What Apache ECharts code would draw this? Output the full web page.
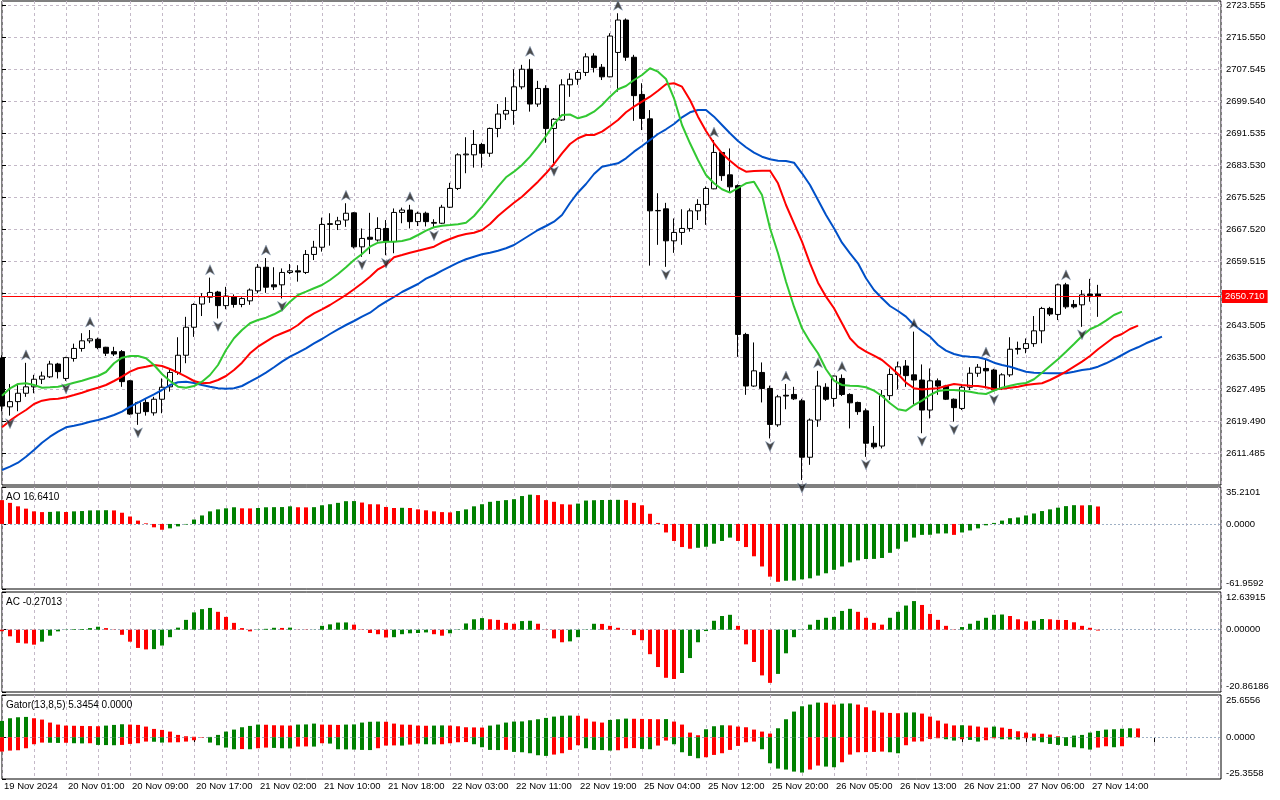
<!DOCTYPE html>
<html>
<head>
<meta charset="utf-8">
<script src="https://cdn.jsdelivr.net/npm/echarts@6/dist/echarts.min.js"></script>
<style>html,body{margin:0;padding:0;background:#fff}#c{width:1280px;height:800px}</style>
</head>
<body>
<div id="c"></div>
<script>
// ---------- DATA ----------
const tickLabels = ['19 Nov 2024','20 Nov 01:00','20 Nov 09:00','20 Nov 17:00','21 Nov 02:00','21 Nov 10:00','21 Nov 18:00','22 Nov 03:00','22 Nov 11:00','22 Nov 19:00','25 Nov 04:00','25 Nov 12:00','25 Nov 20:00','26 Nov 05:00','26 Nov 13:00','26 Nov 21:00','27 Nov 06:00','27 Nov 14:00'];
const priceTicks = [2611.485, 2619.490, 2627.495, 2635.500, 2643.505, 2651.510, 2659.515, 2667.520, 2675.525, 2683.530, 2691.535, 2699.540, 2707.545, 2715.550, 2723.555];

const opens = [
2635.3,2623.1,2624.4,2626.5,2628.1,2630.0,2630.6,2633.8,2630.2,2635.2,
2637.7,2639.6,2640.0,2638.0,2636.9,2636.9,2629.6,2621.5,2624.2,2621.6,
2625.0,2628.1,2631.7,2636.0,2643.0,2648.8,2650.5,2651.8,2648.4,2650.6,
2648.7,2649.6,2652.1,2658.0,2653.6,2653.6,2656.7,2657.1,2656.7,2661.2,
2663.0,2668.7,2668.7,2669.8,2671.6,2663.1,2665.5,2664.8,2667.7,2664.4,
2671.7,2672.3,2669.4,2671.5,2669.0,2669.0,2673.0,2677.7,2686.1,2686.1,
2688.7,2686.5,2692.7,2696.3,2697.2,2703.1,2707.5,2698.8,2702.7,2692.7,
2694.8,2703.6,2705.0,2706.7,2710.8,2708.0,2705.6,2711.7,2719.8,2710.5,
2701.2,2695.1,2672.1,2672.6,2664.6,2666.7,2667.7,2672.1,2673.7,2677.6,
2686.7,2681.1,2678.4,2641.2,2628.3,2631.7,2627.7,2618.6,2626.0,2626.2,
2624.6,2610.5,2619.8,2628.0,2625.2,2630.2,2626.2,2624.2,2622.1,2614.0,
2613.3,2625.9,2631.2,2633.3,2631.1,2629.8,2622.3,2629.6,2628.3,2625.0,
2622.7,2628.0,2631.5,2632.7,2632.3,2627.7,2631.1,2637.7,2637.7,2638.9,
2642.1,2647.7,2646.2,2653.6,2648.7,2648.6,2651.3,2651.3];
const highs = [
2636.0,2628.8,2628.7,2634.1,2631.1,2631.9,2634.6,2634.1,2635.6,2638.9,
2641.5,2642.3,2640.4,2638.1,2638.1,2637.3,2629.8,2624.4,2625.0,2625.6,
2630.2,2632.7,2640.5,2645.6,2649.0,2651.5,2655.4,2652.1,2653.1,2651.2,
2650.5,2652.7,2658.8,2660.3,2658.0,2657.7,2658.8,2658.5,2662.3,2664.6,
2670.4,2671.5,2670.6,2674.0,2671.8,2667.7,2671.6,2670.5,2669.8,2672.7,
2672.9,2673.6,2671.9,2671.9,2670.0,2673.6,2679.1,2686.5,2690.5,2692.3,
2689.1,2692.9,2698.8,2700.5,2707.5,2708.6,2710.0,2704.6,2703.5,2695.3,
2705.0,2706.5,2707.3,2711.5,2711.5,2708.8,2716.5,2721.5,2720.2,2711.1,
2704.0,2697.3,2676.5,2674.1,2670.2,2672.5,2672.7,2675.0,2678.2,2689.8,
2686.9,2687.7,2678.7,2641.6,2639.2,2634.2,2628.4,2626.1,2628.8,2628.1,
2625.1,2620.2,2632.1,2629.0,2630.9,2631.2,2626.5,2624.4,2622.7,2618.3,
2627.3,2632.7,2634.4,2634.8,2641.9,2633.7,2632.7,2630.2,2628.6,2625.2,
2628.6,2633.0,2633.8,2634.8,2632.6,2631.5,2640.5,2639.4,2640.2,2645.8,
2648.1,2648.1,2653.9,2654.1,2649.8,2652.3,2655.1,2653.6];
const lows = [
2622.0,2620.9,2622.0,2625.6,2626.5,2628.8,2630.3,2630.2,2629.6,2634.4,
2636.9,2639.0,2637.5,2635.8,2635.8,2628.1,2621.1,2618.6,2620.9,2620.9,
2621.5,2626.9,2631.1,2634.0,2640.6,2645.8,2649.1,2645.2,2647.5,2647.9,
2648.0,2648.6,2651.5,2651.6,2652.3,2650.2,2656.3,2654.4,2656.3,2659.8,
2661.9,2663.4,2667.3,2668.1,2662.7,2660.6,2661.3,2664.4,2661.0,2661.5,
2669.0,2667.7,2668.3,2668.2,2667.9,2668.8,2672.8,2677.3,2681.5,2682.9,
2682.9,2685.6,2690.5,2694.8,2693.6,2702.5,2696.9,2698.1,2689.1,2684.0,
2694.6,2700.6,2703.6,2705.8,2706.7,2704.8,2705.5,2701.9,2709.6,2694.6,
2692.3,2658.4,2663.6,2658.1,2661.6,2663.6,2666.9,2669.8,2668.6,2677.5,
2679.6,2676.9,2635.6,2626.1,2628.1,2624.2,2615.2,2618.1,2622.5,2624.8,
2604.8,2608.6,2618.1,2624.6,2623.1,2625.8,2617.7,2621.1,2610.6,2612.6,
2612.7,2624.8,2627.5,2628.1,2623.7,2616.5,2620.2,2626.1,2624.8,2619.4,
2622.3,2627.3,2630.6,2627.7,2626.9,2627.3,2630.6,2636.2,2636.5,2638.1,
2639.0,2645.8,2644.8,2647.6,2647.7,2643.1,2649.4,2645.6];
const closes = [
2623.3,2624.4,2626.5,2628.1,2630.0,2630.8,2633.8,2631.9,2635.4,2637.7,
2639.6,2640.1,2637.9,2636.5,2636.3,2629.4,2621.3,2624.2,2621.9,2625.0,
2628.0,2631.7,2636.0,2643.0,2648.7,2650.6,2651.7,2648.4,2650.8,2648.7,
2650.2,2652.3,2658.0,2653.0,2653.1,2656.7,2657.1,2656.8,2661.2,2663.0,
2668.7,2668.9,2669.6,2671.5,2663.1,2665.2,2665.0,2667.7,2664.4,2671.7,
2672.3,2669.4,2671.5,2669.4,2669.2,2673.0,2677.7,2686.1,2686.3,2688.7,
2686.5,2692.7,2696.3,2697.2,2703.1,2707.5,2698.8,2702.7,2692.7,2695.0,
2703.6,2705.0,2706.7,2710.6,2707.9,2705.6,2715.8,2719.8,2710.5,2700.9,
2695.2,2672.1,2672.2,2664.6,2666.7,2667.7,2672.1,2673.7,2677.7,2686.7,
2680.9,2678.1,2641.2,2628.3,2632.1,2627.7,2618.7,2625.6,2625.8,2625.1,
2610.5,2619.8,2628.3,2625.0,2630.8,2626.2,2624.1,2621.9,2614.0,2613.1,
2625.9,2631.2,2633.1,2630.9,2629.8,2622.3,2629.6,2628.3,2625.0,2622.9,
2628.0,2631.5,2633.0,2632.1,2627.3,2631.1,2637.5,2637.5,2638.9,2642.1,
2647.7,2646.3,2653.6,2648.1,2648.1,2651.1,2650.9,2650.71];

// Alligator lines (as drawn, already shifted)
const jaw = [
2607.31,2608.14,2609.14,2610.64,2612.31,2614.14,2615.64,2616.89,2617.99,2618.39,
2618.81,2619.39,2619.81,2620.39,2621.06,2621.89,2623.14,2624.14,2625.24,2626.24,
2627.31,2628.56,2629.24,2629.39,2629.06,2628.56,2628.14,2627.74,2627.64,2627.74,
2628.31,2629.39,2630.49,2631.64,2632.99,2634.39,2635.64,2636.64,2637.74,2638.99,
2640.06,2641.31,2642.49,2643.56,2644.56,2645.64,2646.64,2648.14,2649.39,2650.56,
2651.81,2652.81,2653.81,2655.14,2656.06,2657.14,2658.14,2659.14,2659.99,2660.64,
2661.24,2661.64,2662.14,2662.74,2663.56,2664.81,2666.06,2667.31,2668.31,2669.39,
2671.06,2674.06,2676.69,2678.81,2681.31,2683.14,2683.56,2683.99,2685.24,2686.89,
2688.31,2689.81,2691.31,2692.49,2693.81,2695.49,2696.74,2697.31,2697.31,2695.64,
2693.56,2691.49,2689.56,2687.99,2686.64,2685.64,2684.99,2684.64,2684.56,2684.14,
2681.49,2678.56,2674.81,2671.06,2667.74,2664.14,2661.49,2658.99,2655.24,2652.31,
2650.24,2648.31,2647.06,2645.64,2643.56,2642.06,2640.64,2638.56,2637.14,2636.31,
2635.81,2635.64,2635.49,2634.99,2634.14,2633.56,2633.14,2632.49,2631.89,2631.64,
2631.56,2631.49,2631.49,2631.49,2631.89,2632.31,2632.56,2633.14,2633.99,2634.99,
2636.06,2637.14,2637.99,2638.99,2639.81,2640.64];
const teeth = [
2617.99,2619.64,2621.06,2622.31,2623.81,2624.64,2624.99,2625.14,2625.49,2626.06,
2626.64,2627.31,2627.89,2628.56,2629.56,2630.64,2631.89,2632.74,2633.14,2633.56,
2633.31,2632.56,2631.64,2630.64,2629.56,2628.99,2629.14,2629.81,2630.81,2632.31,
2634.14,2636.49,2638.14,2639.39,2640.64,2641.49,2642.31,2643.56,2645.24,2646.49,
2647.49,2648.56,2649.81,2651.06,2652.49,2653.99,2655.64,2657.49,2658.56,2660.49,
2661.06,2661.64,2662.14,2662.64,2663.14,2664.24,2665.06,2665.81,2666.31,2666.64,
2667.31,2668.81,2670.81,2672.49,2674.14,2675.64,2677.49,2679.39,2681.49,2683.81,
2686.49,2688.81,2690.24,2691.06,2691.06,2691.89,2693.31,2694.81,2696.74,2698.14,
2699.39,2700.64,2702.14,2703.74,2703.99,2703.14,2699.81,2695.64,2692.06,2688.99,
2686.49,2684.61,2682.99,2681.89,2682.06,2682.14,2682.14,2678.99,2673.56,2668.99,
2664.39,2658.99,2654.14,2650.64,2647.74,2643.99,2640.24,2638.14,2636.89,2635.89,
2634.81,2633.14,2631.31,2629.14,2627.74,2627.44,2627.64,2627.74,2628.31,2628.81,
2628.56,2628.39,2628.31,2627.99,2627.49,2627.64,2627.89,2628.14,2628.56,2628.81,
2628.99,2629.81,2630.81,2631.89,2633.14,2634.39,2635.81,2637.49,2638.99,2640.49,
2641.31,2642.56,2643.39];
const lips = [
2625.89,2627.74,2628.81,2628.99,2628.56,2627.89,2627.99,2628.14,2628.56,2629.14,
2629.64,2630.24,2630.81,2631.81,2633.99,2635.39,2635.81,2635.81,2635.24,2633.56,
2631.31,2629.56,2628.14,2627.89,2628.31,2629.39,2631.06,2633.56,2637.31,2640.24,
2642.31,2643.99,2644.81,2645.39,2646.24,2647.31,2649.39,2651.06,2651.89,2652.74,
2653.56,2654.81,2656.31,2657.99,2659.81,2661.31,2663.14,2664.14,2664.39,2664.39,
2664.56,2665.06,2666.06,2667.14,2667.99,2668.39,2668.56,2668.74,2669.14,2670.81,
2673.14,2675.64,2678.14,2680.49,2681.89,2683.56,2685.64,2688.14,2690.81,2693.81,
2696.06,2696.19,2695.24,2695.81,2696.89,2698.56,2700.64,2702.49,2703.31,2704.81,
2706.06,2707.74,2706.89,2705.06,2700.24,2693.56,2688.99,2684.81,2681.06,2678.99,
2677.49,2676.64,2677.81,2678.99,2679.39,2676.06,2667.74,2661.49,2654.39,2648.14,
2642.74,2639.39,2636.49,2632.49,2629.64,2628.56,2628.39,2628.31,2627.99,2627.14,
2625.81,2623.99,2622.49,2622.14,2623.56,2624.64,2626.06,2627.06,2627.31,2627.31,
2627.14,2626.89,2626.49,2626.31,2627.14,2627.89,2628.39,2628.81,2629.06,2629.99,
2631.64,2633.31,2634.99,2636.89,2638.81,2640.81,2642.49,2643.39,2644.64,2646.06,
2646.89];

const fractalUp = [3, 11, 26, 33, 43, 51, 66, 77, 89, 98, 102, 105, 114, 123, 133];
const fractalDown = [1, 8, 17, 27, 35, 45, 48, 54, 69, 83, 96, 100, 108, 115, 119, 124, 135];

const ao = [
22.7,20.1,16.8,14.6,12.0,11.3,11.5,12.0,11.4,12.0,
12.3,12.9,13.0,13.1,12.9,10.7,7.1,3.2,0.6,-3.2,
-5.5,-4.2,-2.3,-0.5,4.2,8.1,12.0,13.9,14.9,15.9,
14.9,14.8,15.2,15.9,16.0,16.1,16.8,15.9,15.8,16.0,
17.8,18.8,20.1,21.7,21.8,20.4,18.8,18.7,16.2,15.2,
15.4,15.2,13.9,13.0,12.0,11.3,11.0,12.3,13.9,16.8,
18.8,21.1,22.0,22.7,23.6,26.6,27.9,27.5,22.7,21.1,
18.8,18.5,19.4,22.3,22.6,22.8,22.9,23.0,22.7,20.1,
17.8,9.7,1.0,-8.1,-16.2,-22.0,-23.6,-22.7,-21.7,-18.8,
-16.2,-13.0,-16.2,-22.0,-30.8,-40.5,-50.2,-55.1,-54.1,-53.9,
-52.8,-51.8,-49.2,-47.0,-43.7,-40.5,-36.6,-34.7,-33.4,-33.3,
-32.4,-27.5,-23.6,-16.8,-13.0,-10.4,-10.3,-9.1,-9.0,-10.4,
-8.1,-6.2,-4.2,-1.3,1.0,3.2,5.5,6.2,8.1,10.0,
12.3,13.9,15.5,17.0,17.9,17.7,17.9,16.641];
const ac = [
-0.5,-2.2,-4.4,-4.6,-5.0,-4.0,-2.0,-0.55,0.1,0.2,
0.25,0.55,1.0,0.55,-0.1,-1.7,-4.0,-6.1,-6.6,-6.5,
-5.3,-2.5,0.7,3.3,5.8,6.9,7.3,6.0,4.3,2.3,
0.55,-0.55,-0.1,0.3,0.65,0.6,0.7,-0.05,-0.1,-0.05,
1.3,1.8,2.4,2.45,1.7,-0.1,-1.1,-1.5,-2.6,-2.5,
-1.5,-1.2,-1.1,-0.9,-1.5,-2.0,-1.2,0.1,2.1,3.5,
3.9,3.5,3.3,2.3,2.0,2.9,3.0,2.0,-0.1,-2.9,
-4.2,-3.9,-2.5,-0.1,2.0,1.95,1.3,0.65,-0.05,-1.8,
-3.5,-8.2,-12.5,-16.1,-16.5,-14.5,-9.5,-4.2,-0.45,3.0,
4.6,5.0,1.3,-4.9,-10.8,-15.3,-17.8,-14.8,-7.9,-2.5,
0.1,1.7,3.3,4.0,4.3,6.3,7.0,6.0,4.0,2.3,
1.7,4.0,6.0,8.1,9.6,8.3,5.3,3.3,1.3,-0.1,
0.9,2.0,3.0,4.0,5.0,5.1,4.6,3.5,2.8,3.0,
3.6,3.5,3.3,3.25,2.5,1.3,0.65,-0.27013];
const gatorUp = [
9.92,11.54,12.14,12.35,11.54,10.73,8.91,7.69,7.08,6.98,
6.88,6.78,6.68,7.08,7.49,7.89,7.69,7.49,6.48,5.06,
4.45,3.44,1.42,0.61,0.30,0.10,0.20,1.42,3.44,4.66,
6.07,6.88,7.69,7.59,7.29,7.19,7.08,7.69,7.79,8.30,
7.69,7.59,7.49,7.69,7.79,8.91,9.41,9.51,9.41,8.30,
7.69,7.59,7.08,6.98,7.08,7.19,7.08,6.68,6.07,5.97,
5.87,7.08,7.69,8.91,9.51,9.61,10.32,10.93,11.74,12.55,
13.05,13.16,13.05,11.33,9.51,8.91,10.52,10.93,11.33,11.23,
11.13,11.03,10.93,11.03,9.51,7.69,2.83,1.21,4.86,6.68,
7.29,7.19,6.48,6.07,4.66,3.44,2.23,5.46,10.93,15.58,
18.82,19.84,21.05,20.95,19.84,20.44,20.54,19.84,18.22,16.19,
14.98,14.78,14.57,14.98,15.08,14.37,12.55,10.12,8.30,7.19,
7.29,7.08,6.48,5.87,6.48,5.87,5.06,3.64,2.83,2.23,
2.13,1.62,0.61,0.10,1.01,1.42,2.83,3.85,4.66,4.86,
5.16,5.45,5.3454];
const gatorDown = [
-8.70,-8.10,-7.89,-6.68,-4.25,-3.24,-3.34,-3.44,-3.34,-3.64,
-3.74,-3.64,-4.66,-4.76,-4.86,-4.66,-4.05,-3.64,-2.63,-2.73,
-3.24,-3.14,-3.04,-2.63,-1.82,-0.20,-3.24,-4.86,-6.27,-7.29,
-7.19,-7.29,-6.68,-6.27,-6.48,-6.68,-6.78,-5.67,-5.57,-5.67,
-3.64,-3.85,-7.29,-7.39,-7.49,-7.69,-7.79,-6.68,-5.06,-4.96,
-5.06,-4.45,-3.85,-4.25,-4.35,-4.25,-3.64,-3.04,-2.93,-4.25,
-6.07,-7.69,-7.79,-7.69,-8.91,-9.11,-9.72,-10.93,-11.33,-10.52,
-9.72,-7.69,-4.86,-6.68,-7.69,-7.79,-8.10,-7.89,-6.68,-6.58,
-7.08,-7.29,-5.06,-2.02,-4.25,-9.11,-11.33,-12.75,-12.14,-10.73,
-9.72,-7.69,-5.26,-3.04,-2.63,-7.29,-15.79,-19.03,-19.63,-20.85,
-21.45,-19.63,-17.20,-17.81,-18.22,-15.18,-10.52,-9.11,-9.01,-8.91,
-8.70,-9.11,-9.72,-4.86,-2.63,-2.53,-1.01,-0.61,-1.21,-2.02,
-1.21,-1.62,-2.63,-1.82,-0.61,-1.21,-1.32,-1.42,-0.61,-2.02,
-3.04,-4.05,-4.66,-5.26,-6.07,-6.68,-7.49,-6.27,-5.46,-6.07,
-5.46];
const gatorDownLast = 0;

const aoRange = [-61.9592, 35.2101];
const acRange = [-20.86186, 12.63915];
const gatorRange = [-25.3558, 25.6556];

// ---------- STYLE / LAYOUT ----------
const FONT = '"Liberation Sans", Arial, sans-serif';
const GREEN = '#008000', RED = '#ff0000';
const XMAX = 152.375;
const GRID_LINE = {color: '#c4b9c8', type: [3, 3], width: 1};
const ZERO_LINE = {color: '#9fb0c4', type: [2, 2], width: 1};
const ARROW = 'path://M5,0 L10,10 L5,7.2 L0,10 Z';

const xTickPos = [];
for (let v = 0; v <= 152; v += 8) xTickPos.push(v);

const lastClose = closes[closes.length - 1];

const grids = [
  {left: 2, top: 1, width: 1219, height: 484},
  {left: 2, top: 487, width: 1219, height: 102},
  {left: 2, top: 592, width: 1219, height: 100},
  {left: 2, top: 695, width: 1219, height: 84}
].map(g => Object.assign({show: true, borderColor: '#000', borderWidth: 1, backgroundColor: 'transparent'}, g));

const xAxes = [0, 1, 2, 3].map(gi => ({
  gridIndex: gi, type: 'value', min: 0, max: XMAX, interval: 8,
  axisLine: {show: false},
  axisTick: gi === 3 ? {show: true, length: 5, customValues: xTickPos, lineStyle: {color: '#000'}} : {show: false},
  axisLabel: gi === 3 ? {
    show: true, customValues: xTickPos, showMinLabel: true, showMaxLabel: false,
    formatter: v => tickLabels[Math.round(v / 8)] || '',
    align: 'left', margin: 2, padding: [0, 0, 0, 2],
    color: '#000', fontSize: 9.5, fontFamily: FONT
  } : {show: false},
  splitLine: {show: true, lineStyle: GRID_LINE},
  minorTick: {show: false, splitNumber: 2},
  minorSplitLine: {show: true, lineStyle: GRID_LINE}
}));

function indicatorY(gi, range, dec) {
  const mn = range[0], mx = range[1];
  const vals = [mx, 0, mn];
  const base = {fontSize: 9.5, fontFamily: FONT, color: '#000'};
  return {
    gridIndex: gi, type: 'value', position: 'right', min: mn, max: mx,
    axisLine: {show: false},
    axisTick: {show: true, length: 4, customValues: vals, lineStyle: {color: '#000'}},
    axisLabel: Object.assign({
      show: true, customValues: vals, margin: 5,
      formatter: v => {
        const s = v.toFixed(dec);
        if (v === mx) return '{t|' + s + '}';
        if (v === mn) return '{b|' + s + '}';
        return s;
      },
      rich: {t: Object.assign({padding: [11, 0, 0, 0]}, base), b: Object.assign({padding: [0, 0, 11, 0]}, base)}
    }, base),
    splitLine: {show: false}
  };
}

const yAxes = [
  {
    gridIndex: 0, type: 'value', position: 'right', min: 2603.56, max: 2724.56,
    axisLine: {show: false},
    axisTick: {show: true, length: 4, customValues: priceTicks, lineStyle: {color: '#000'}},
    axisLabel: {show: true, customValues: priceTicks, formatter: v => v.toFixed(3), margin: 5,
      color: '#000', fontSize: 9.5, fontFamily: FONT},
    splitLine: {show: false}
  },
  indicatorY(1, aoRange, 4),
  indicatorY(2, acRange, 5),
  indicatorY(3, gatorRange, 4)
];

function dirColor(arr, useAbs, firstColor) {
  return p => {
    const i = p.dataIndex;
    if (i === 0) return firstColor;
    const a = useAbs ? Math.abs(arr[i]) : arr[i];
    const b = useAbs ? Math.abs(arr[i - 1]) : arr[i - 1];
    return a > b ? GREEN : RED;
  };
}
const toXY = arr => arr.map((v, i) => [i, v]);
const zeroMark = {silent: true, symbol: 'none', animation: false, z: 1, label: {show: false},
  lineStyle: ZERO_LINE, data: [{yAxis: 0}]};
const txt = {fontSize: 10, fontWeight: 'normal', color: '#000', fontFamily: FONT};

const series = [
  {
    type: 'line', name: 'gridlines', xAxisIndex: 0, yAxisIndex: 0, data: toXY(closes),
    symbol: 'none', lineStyle: {opacity: 0}, silent: true, z: 0,
    markLine: {silent: true, symbol: 'none', animation: false, z: 0, label: {show: false},
      lineStyle: GRID_LINE, data: priceTicks.map(v => ({yAxis: v}))}
  },
  {
    type: 'candlestick', xAxisIndex: 0, yAxisIndex: 0, barWidth: 5, z: 2,
    data: opens.map((o, i) => [i, o, closes[i], lows[i], highs[i]]),
    encode: {x: 0, y: [1, 2, 3, 4]},
    itemStyle: {color: '#ffffff', color0: '#000000', borderColor: '#000', borderColor0: '#000', borderWidth: 1},
    markLine: {
      silent: true, symbol: 'none', animation: false,
      data: [{
        yAxis: lastClose,
        lineStyle: {color: '#ff0000', type: 'solid', width: 1},
        label: {show: true, position: 'end', distance: 1, formatter: lastClose.toFixed(3),
          color: '#fff', backgroundColor: '#ff0000', padding: [2, 3, 1, 3], fontSize: 9.5, fontFamily: FONT}
      }]
    }
  },
  {type: 'line', name: 'Jaw', xAxisIndex: 0, yAxisIndex: 0, data: toXY(jaw), symbol: 'none', z: 3,
    lineStyle: {color: '#0050c8', width: 2}},
  {type: 'line', name: 'Teeth', xAxisIndex: 0, yAxisIndex: 0, data: toXY(teeth), symbol: 'none', z: 3,
    lineStyle: {color: '#ff0000', width: 2}},
  {type: 'line', name: 'Lips', xAxisIndex: 0, yAxisIndex: 0, data: toXY(lips), symbol: 'none', z: 3,
    lineStyle: {color: '#32c832', width: 2}},
  {type: 'scatter', xAxisIndex: 0, yAxisIndex: 0, data: fractalUp.map(i => [i, highs[i]]),
    symbol: ARROW, symbolSize: [9, 10], symbolOffset: [0, -8], z: 4,
    itemStyle: {color: '#1e1e1e', borderColor: '#8aa0c0', borderWidth: 0.6}},
  {type: 'scatter', xAxisIndex: 0, yAxisIndex: 0, data: fractalDown.map(i => [i, lows[i]]),
    symbol: ARROW, symbolRotate: 180, symbolSize: [9, 10], symbolOffset: [0, 8], z: 4,
    itemStyle: {color: '#1e1e1e', borderColor: '#8aa0c0', borderWidth: 0.6}},
  {type: 'bar', name: 'AO', xAxisIndex: 1, yAxisIndex: 1, barWidth: 4, data: toXY(ao),
    itemStyle: {color: dirColor(ao, false, RED)}, markLine: zeroMark},
  {type: 'bar', name: 'AC', xAxisIndex: 2, yAxisIndex: 2, barWidth: 4, data: toXY(ac),
    itemStyle: {color: dirColor(ac, false, RED)}, markLine: zeroMark},
  {type: 'bar', name: 'GatorUp', xAxisIndex: 3, yAxisIndex: 3, barWidth: 4, barGap: '-100%', data: toXY(gatorUp),
    itemStyle: {color: dirColor(gatorUp, true, GREEN)}, markLine: zeroMark},
  {type: 'bar', name: 'GatorDown', xAxisIndex: 3, yAxisIndex: 3, barWidth: 4, barGap: '-100%', data: toXY(gatorDown),
    itemStyle: {color: dirColor(gatorDown, true, RED)}}
];

const option = {
  animation: false,
  backgroundColor: '#ffffff',
  title: [
    {text: 'AO ' + ao[ao.length - 1].toFixed(4), left: 6, top: 492, padding: 0, textStyle: txt},
    {text: 'AC ' + ac[ac.length - 1].toFixed(5), left: 6, top: 597, padding: 0, textStyle: txt},
    {text: 'Gator(13,8,5) ' + gatorUp[gatorUp.length - 1].toFixed(4) + ' ' + gatorDownLast.toFixed(4),
      left: 6, top: 700, padding: 0, textStyle: txt}
  ],
  grid: grids,
  xAxis: xAxes,
  yAxis: yAxes,
  series: series
};

const chart = echarts.init(document.getElementById('c'), null, {renderer: 'canvas'});
chart.setOption(option);
</script>
</body>
</html>
